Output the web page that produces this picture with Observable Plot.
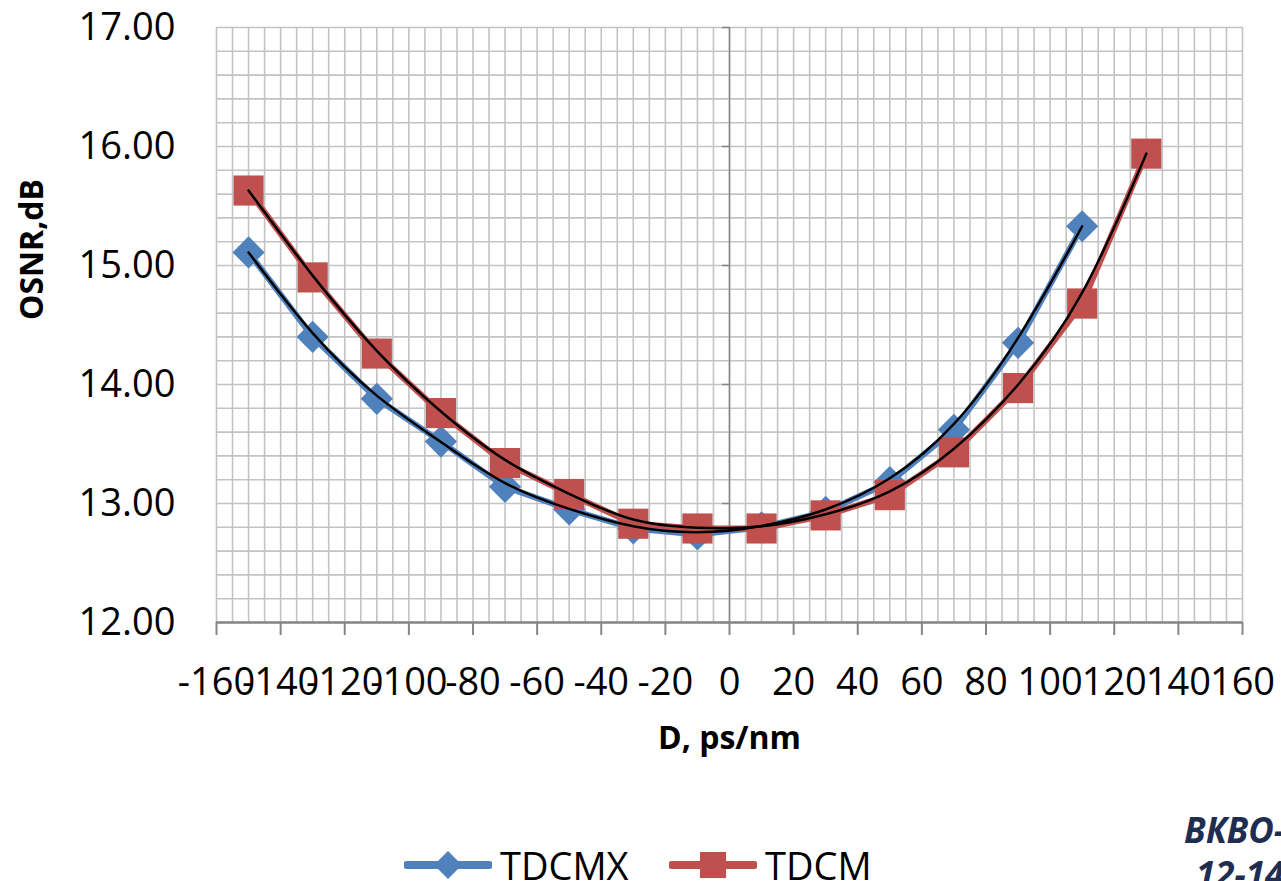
<!DOCTYPE html>
<html><head><meta charset="utf-8">
<script src="https://cdn.jsdelivr.net/npm/d3@7"></script>
<script src="https://cdn.jsdelivr.net/npm/@observablehq/plot@0.6"></script>
<style>
html,body{margin:0;padding:0;background:#fff;}
body{width:1281px;height:881px;overflow:hidden;position:relative;font-family:"Open Sans",sans-serif;}
#chart{position:absolute;left:0;top:0;}
.leg{position:absolute;display:flex;align-items:center;font-size:38px;color:#000;line-height:1;}
.leg svg{display:block;margin-right:8px;}
.conf{position:absolute;font-weight:bold;font-style:italic;color:#1F2D50;font-size:35px;line-height:1;white-space:nowrap;}
</style></head><body>
<div id="chart"></div>
<div id="legend"></div>
<div class="conf" id="conf1" style="left:1184px;top:812px;"></div>
<div class="conf" id="conf2" style="left:1196px;top:856px;"></div>
<script>
// ---- data ----
const dispersion = [-150, -130, -110, -90, -70, -50, -30, -10, 10, 30, 50, 70, 90, 110, 130];
const tdcmxOsnr = [15.11, 14.40, 13.88, 13.52, 13.14, 12.95, 12.79, 12.74, 12.80, 12.93, 13.18, 13.62, 14.35, 15.33];
const tdcmOsnr  = [15.63, 14.90, 14.26, 13.76, 13.34, 13.08, 12.83, 12.79, 12.79, 12.90, 13.07, 13.43, 13.97, 14.68, 15.94];
const seriesNames = ["TDCMX", "TDCM"];
const seriesColors = ["#4F81BD", "#C0504D"];
const seriesSymbols = ["diamond2", "square"];
const xTicks = [-160, -140, -120, -100, -80, -60, -40, -20, 0, 20, 40, 60, 80, 100, 120, 140, 160];
const yTicks = [12, 13, 14, 15, 16, 17];
const xTitle = "D, ps/nm";
const yTitle = "OSNR,dB";
const confLines = ["ВКВО-", "12-14"];

// ---- derived tables ----
const tdcmxRows = tdcmxOsnr.map((v, i) => ({D: dispersion[i], osnr: v, series: seriesNames[0]}));
const tdcmRows = tdcmOsnr.map((v, i) => ({D: dispersion[i], osnr: v, series: seriesNames[1]}));
const xMinor = d3.range(-32, 33).map(i => i * 5);
const yMinor = d3.range(60, 86).map(i => i / 5);

const gridColor = "#c3c3c3";
const axisColor = "#868686";

const chart = Plot.plot({
  width: 1281,
  height: 790,
  marginLeft: 216,
  marginRight: 39,
  marginTop: 27,
  marginBottom: 168,
  style: {fontFamily: "'Open Sans', sans-serif", background: "#fff", color: "#000"},
  x: {domain: [-160, 160]},
  y: {domain: [12, 17]},
  marks: [
    Plot.gridX(xMinor, {stroke: gridColor, strokeOpacity: 1, strokeWidth: 1.6}),
    Plot.gridY(yMinor, {stroke: gridColor, strokeOpacity: 1, strokeWidth: 1.6}),
    Plot.ruleX([0], {stroke: axisColor, strokeWidth: 1.5}),
    Plot.ruleY(yTicks, {y: d => d, x1: () => 0, x2: () => 0, insetLeft: -7, stroke: axisColor, strokeWidth: 1.5}),
    Plot.ruleY([12], {stroke: axisColor, strokeWidth: 2.5}),
    Plot.axisX({ticks: xTicks, tickSize: 13, tickPadding: 33, fontSize: 38, stroke: axisColor, strokeWidth: 2, label: null, tickFormat: d => String(d)}),
    Plot.axisY({ticks: yTicks, tickSize: 0, tickPadding: 41, fontSize: 38, label: null, tickFormat: d3.format(".2f")}),
    Plot.text([xTitle], {frameAnchor: "bottom", dy: 126, fontSize: 32, fontWeight: "bold"}),
    Plot.text([yTitle], {frameAnchor: "left", dx: -184, dy: -5, rotate: -90, fontSize: 32, fontWeight: "bold"}),
    Plot.line(tdcmxRows, {x: "D", y: "osnr", stroke: seriesColors[0], strokeWidth: 6}),
    Plot.dot(tdcmxRows, {x: "D", y: "osnr", symbol: seriesSymbols[0], r: 14.5, fill: seriesColors[0], stroke: "none"}),
    Plot.line(tdcmRows, {x: "D", y: "osnr", stroke: seriesColors[1], strokeWidth: 6}),
    Plot.dot(tdcmRows, {x: "D", y: "osnr", symbol: seriesSymbols[1], r: 17, fill: seriesColors[1], stroke: "none"}),
    Plot.line(tdcmxRows, {x: "D", y: "osnr", stroke: "#000", strokeWidth: 2.5, curve: "basis"}),
    Plot.line(tdcmRows, {x: "D", y: "osnr", stroke: "#000", strokeWidth: 2.5, curve: "basis"})
  ]
});
document.getElementById("chart").appendChild(chart);

// ---- legend ----
const legend = document.getElementById("legend");
const legendLeft = [404, 669];
const symbolSizes = [Math.PI * 14.5 * 14.5, Math.PI * 17 * 17];
const symbolTypes = [d3.symbolDiamond2, d3.symbolSquare];
seriesNames.forEach((name, i) => {
  const item = document.createElement("div");
  item.className = "leg";
  item.style.left = legendLeft[i] + "px";
  item.style.top = "845px";
  const svg = d3.create("svg").attr("width", 88).attr("height", 40);
  svg.append("line").attr("x1", 3).attr("x2", 85).attr("y1", 20).attr("y2", 20)
    .attr("stroke", seriesColors[i]).attr("stroke-width", 8).attr("stroke-linecap", "round");
  svg.append("path").attr("transform", "translate(44,20)")
    .attr("d", d3.symbol(symbolTypes[i], symbolSizes[i] * 0.75)()).attr("fill", seriesColors[i]);
  item.appendChild(svg.node());
  const span = document.createElement("span");
  span.textContent = name;
  item.appendChild(span);
  legend.appendChild(item);
});
document.getElementById("conf1").textContent = confLines[0];
document.getElementById("conf2").textContent = confLines[1];
</script>
</body></html>
